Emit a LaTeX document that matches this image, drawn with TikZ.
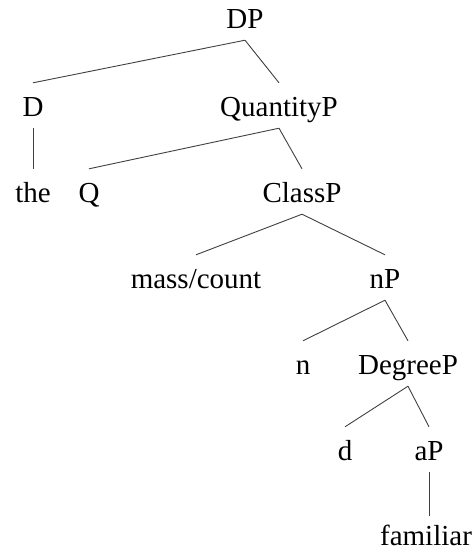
\documentclass[tikz,border=0pt]{standalone}
\usepackage{fontspec}
\setmainfont{Liberation Serif}
\usepackage{tikz}

\begin{document}
\begin{tikzpicture}[
    x=1pt, y=-1pt,
    catnode/.style={font=\fontsize{29}{34}\selectfont, anchor=base, inner xsep=0pt,
                    inner ysep=6pt, text height=27pt, text depth=6pt},
    leafnode/.style={catnode, inner ysep=2pt, text depth=0pt},
    branch/.style={draw=black!75, line width=0.9pt}
]
\useasboundingbox (0,0) rectangle (475,550);

% Top
\node[catnode] at (245,28) (dp) {DP};

% Level 1
\node[catnode] at (33,116) (d) {D};
\node[catnode] at (279,116) (qp) {QuantityP};

% Level 2
\node[catnode] at (33,202) (the) {the};
\node[catnode] at (89,202) (q) {Q};
\node[catnode] at (302,202) (classp) {ClassP};

% Level 3
\node[catnode] at (196,288) (mc) {mass/count};
\node[catnode] at (385,288) (np) {nP};

% Level 4
\node[catnode] at (303,374) (n) {n};
\node[catnode] at (408,374) (degp) {DegreeP};

% Level 5
\node[catnode] at (345,460) (dd) {d};
\node[catnode] at (429,460) (ap) {aP};

% Level 6
\node[leafnode] at (426,545) (fam) {familiar};

% Branches
\draw[branch] (dp.south) -- (d.north);
\draw[branch] (dp.south) -- (qp.north);
\draw[branch] (d.south) -- (the.north);
\draw[branch] (qp.south) -- (q.north);
\draw[branch] (qp.south) -- (classp.north);
\draw[branch] (classp.south) -- (mc.north);
\draw[branch] (classp.south) -- (np.north);
\draw[branch] (np.south) -- (n.north);
\draw[branch] (np.south) -- (degp.north);
\draw[branch] (degp.south) -- (dd.north);
\draw[branch] (degp.south) -- (ap.north);
\draw[branch] (ap.south) -- (ap.south |- fam.north);

\end{tikzpicture}
\end{document}
